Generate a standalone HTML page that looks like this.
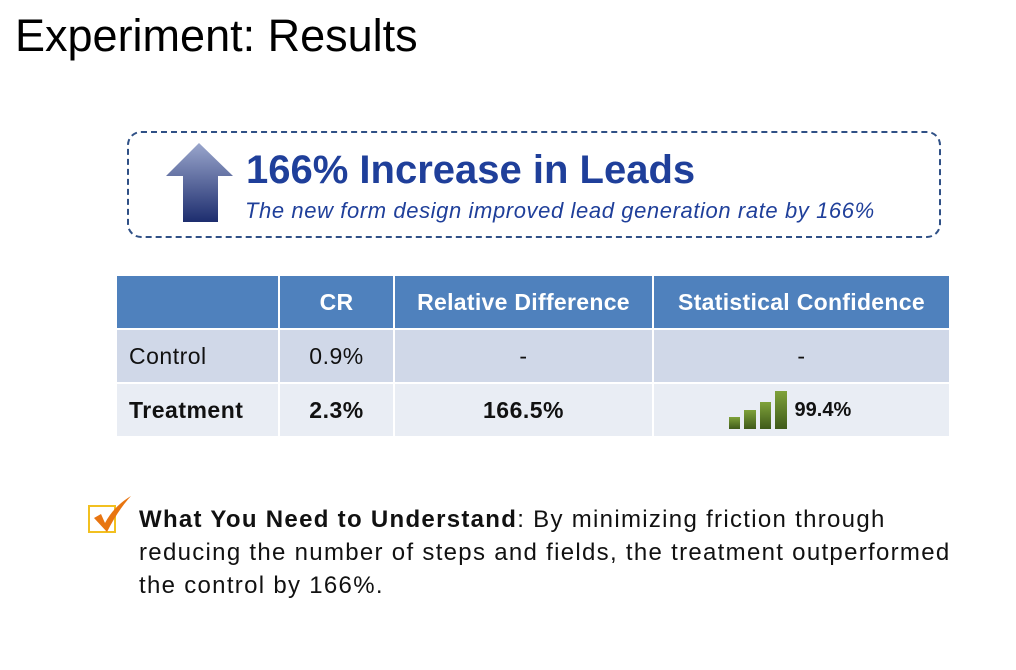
<!DOCTYPE html>
<html><head><meta charset="utf-8"><style>
body{margin:0;width:1016px;height:670px;background:#fff;position:relative;overflow:hidden;font-family:"Liberation Sans",sans-serif}
.abs{position:absolute}
table{border-collapse:separate;border-spacing:2px;position:absolute;left:115px;top:274px;table-layout:fixed;width:836px}
td{height:52px;padding:0;font-size:23px;letter-spacing:0.5px;color:#111;text-align:center;overflow:hidden;white-space:nowrap}
th{height:52px;padding:0;background:#4f81bd;color:#fff;font-size:23px;letter-spacing:0.3px;font-weight:bold;white-space:nowrap}
.r1 td{background:#d0d8e8}.r2 td{background:#e9edf4}
</style></head><body>
<div class="abs" style="left:15px;top:10px;font-size:45px;color:#000">Experiment: Results</div>
<div class="abs" style="left:127px;top:131px;width:810px;height:103px;border:2px dashed #2f5086;border-radius:14px"></div>
<svg class="abs" style="left:160px;top:140px" width="80" height="86">
<defs><linearGradient id="g" x1="0" y1="0" x2="0" y2="1"><stop offset="0" stop-color="#9aa6cc"/><stop offset="1" stop-color="#1d2d6e"/></linearGradient></defs>
<polygon points="39,3 73,36 58,36 58,82 23,82 23,36 6,36" fill="url(#g)"/></svg>
<div class="abs" style="left:246px;top:148px;font-size:40px;font-weight:bold;color:#1f3f9a">166% Increase in Leads</div>
<div class="abs" style="left:245px;top:198px;font-size:22px;letter-spacing:0.6px;font-style:italic;color:#1f3f9a">The new form design improved lead generation rate by 166%</div>
<table>
<colgroup><col style="width:161px"><col style="width:113px"><col style="width:257px"><col style="width:295px"></colgroup>
<tr><th></th><th>CR</th><th>Relative Difference</th><th>Statistical Confidence</th></tr>
<tr class="r1"><td style="text-align:left;padding-left:12px">Control</td><td>0.9%</td><td>-</td><td>-</td></tr>
<tr class="r2"><td style="text-align:left;padding-left:12px;font-weight:bold">Treatment</td><td style="font-weight:bold">2.3%</td><td style="font-weight:bold">166.5%</td><td style="font-weight:bold;font-size:20px;letter-spacing:0;text-align:left;padding-left:75px"><span style="display:inline-block;width:60px;height:40px;vertical-align:-14px;position:relative">
<svg width="60" height="40" style="position:absolute;left:0;top:0"><defs><linearGradient id="b" x1="0" y1="0" x2="0" y2="1"><stop offset="0" stop-color="#7fa23a"/><stop offset="1" stop-color="#3f5a1a"/></linearGradient></defs>
<rect x="0" y="27" width="11" height="12" fill="url(#b)"/><rect x="15" y="20" width="12" height="19" fill="url(#b)"/><rect x="31" y="12" width="11" height="27" fill="url(#b)"/><rect x="46" y="1" width="12" height="38" fill="url(#b)"/></svg></span>&nbsp;99.4%</td></tr>
</table>
<svg class="abs" style="left:86px;top:492px" width="50" height="44">
<rect x="3" y="14" width="26" height="26" fill="none" stroke="#f2c020" stroke-width="2"/>
<path d="M8 26 L15 22 L19 31 Q28 14 45 4 Q32 18 21 40 Z" fill="#e87511"/></svg>
<div class="abs" style="left:139px;top:503px;width:870px;font-size:24px;letter-spacing:1.3px;line-height:33px;color:#111;white-space:nowrap"><b>What You Need to Understand</b>: By minimizing friction through<br>reducing the number of steps and fields, the treatment outperformed<br>the control by 166%.</div>
</body></html>
